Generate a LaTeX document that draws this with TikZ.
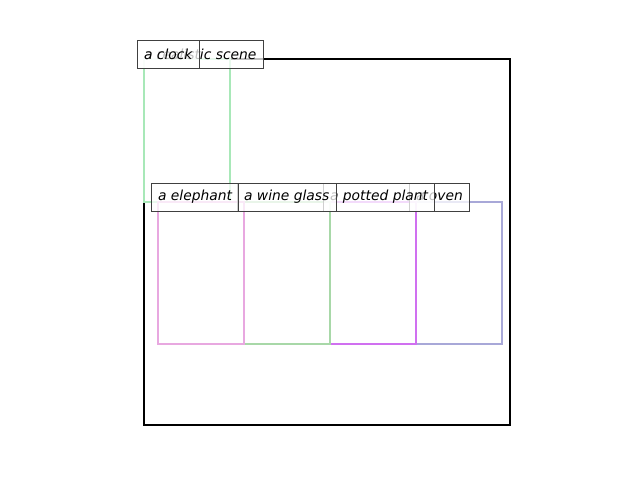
\documentclass[tikz,border=0pt]{standalone}
\usepackage{fontspec}
\setmainfont{DejaVu Sans}
\definecolor{cclock}{HTML}{A8E8B8}
\definecolor{celeph}{HTML}{E8A8E0}
\definecolor{cwine}{HTML}{A8D8A8}
\definecolor{cpot}{HTML}{D070F0}
\definecolor{coven}{HTML}{A8A8D8}
\tikzset{
  bbox/.style={line width=1.5pt},
  lbl/.style={anchor=west, draw=black!75, line width=0.6pt, fill=white, fill opacity=0.75, text opacity=1,
    inner xsep=4.8pt, inner ysep=0pt, minimum height=20.2pt, font=\fontsize{10pt}{12pt}\selectfont\itshape}
}
\begin{document}
\begin{tikzpicture}[x=0.01in,y=-0.01in]
\useasboundingbox (0,0) rectangle (640,480);
% scene frame
\draw[bbox,black] (144,59) rectangle (510,425);
\coordinate (scene) at (137,54);
% clock
\draw[bbox,cclock] (144,59) rectangle (230,202);
\coordinate (clock) at (137,54);
% bottom row, drawn back to front
\draw[bbox,coven] (416,202) rectangle (502,344);
\draw[bbox,cpot] (330,202) rectangle (416,344);
\draw[bbox,cwine] (244,202) rectangle (330,344);
\draw[bbox,celeph] (158,202) rectangle (244,344);
% labels
\node[lbl] (lscene) at (scene) {a realistic scene};
\node[lbl] (lclock) at (clock) {a clock};
\node[lbl] (loven) at (409,197) {a oven};
\node[lbl] (lpot) at (323,197) {a potted plant};
\node[lbl] (lwine) at (237,197) {a wine glass};
\node[lbl] (leleph) at (151,197) {a elephant};
\end{tikzpicture}
\end{document}
